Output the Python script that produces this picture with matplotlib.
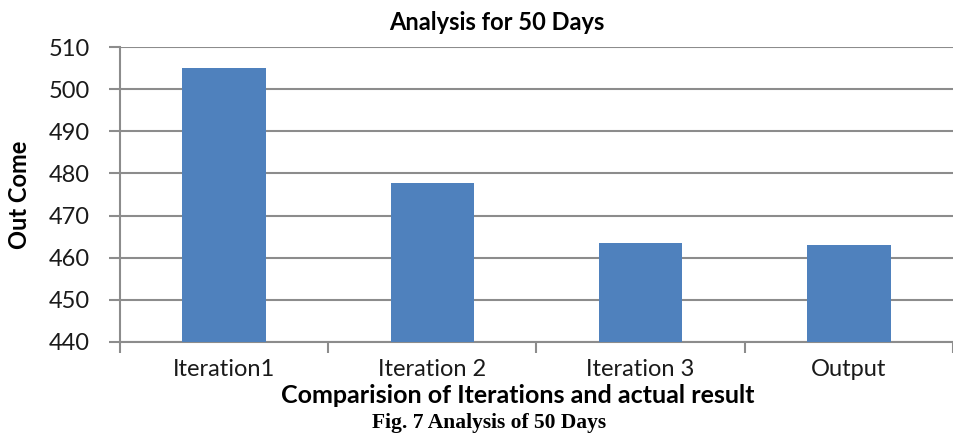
import matplotlib
matplotlib.use("Agg")
import matplotlib.pyplot as plt
import numpy as np

categories = ["Iteration1", "Iteration 2", "Iteration 3", "Output"]
outcome = [505.0, 477.8, 463.6, 463.1]
yticks = [440, 450, 460, 470, 480, 490, 500, 510]

plt.rcParams["font.family"] = ["Lato", "DejaVu Sans"]

fig = plt.figure(figsize=(9.54, 4.36), dpi=100)
ax = fig.add_axes([120 / 954, 1 - 342 / 436, 833 / 954, 295 / 436])

x = np.arange(len(categories))
ax.bar(x, outcome, width=0.40, color="#4F81BD", zorder=3)

ax.set_xlim(-0.5, len(categories) - 0.5)
ax.set_ylim(440, 510)
ax.set_yticks(yticks)
ax.set_yticklabels([str(t) for t in yticks], fontsize=17, color="#1a1a1a")
ax.set_xticks(x)
ax.set_xticklabels(categories, fontsize=17, color="#1a1a1a")
ax.set_xticks(np.arange(len(categories) + 1) - 0.5, minor=True)

ax.grid(axis="y", color="#8c8c8c", linewidth=1.5, zorder=0)
for side in ["top", "right"]:
    ax.spines[side].set_visible(False)
for side in ["left", "bottom"]:
    ax.spines[side].set_color("#8c8c8c")
    ax.spines[side].set_linewidth(1.5)

ax.tick_params(axis="y", length=8, width=1.5, color="#8c8c8c", pad=14)
ax.tick_params(axis="x", which="major", length=0, pad=12)
ax.tick_params(axis="x", which="minor", length=8, width=1.5, color="#8c8c8c")

fig.text(497 / 954, 1 - 22 / 436, "Analysis for 50 Days", fontsize=17,
         fontweight="bold", ha="center", va="center")
ax.set_ylabel("Out Come", fontsize=17, fontweight="bold")
ax.yaxis.set_label_coords(-89 / 833, 0.5)
ax.set_xlabel("Comparision of Iterations and actual result", fontsize=18,
              fontweight="bold")
ax.xaxis.set_label_coords((518 - 120) / 833, -42 / 295)

fig.text(489 / 954, 1 - 423 / 436, "Fig. 7 Analysis of 50 Days",
         fontsize=15.5, fontweight="bold", family="Liberation Serif",
         ha="center", va="center")

fig.savefig("out.png", dpi=100)
